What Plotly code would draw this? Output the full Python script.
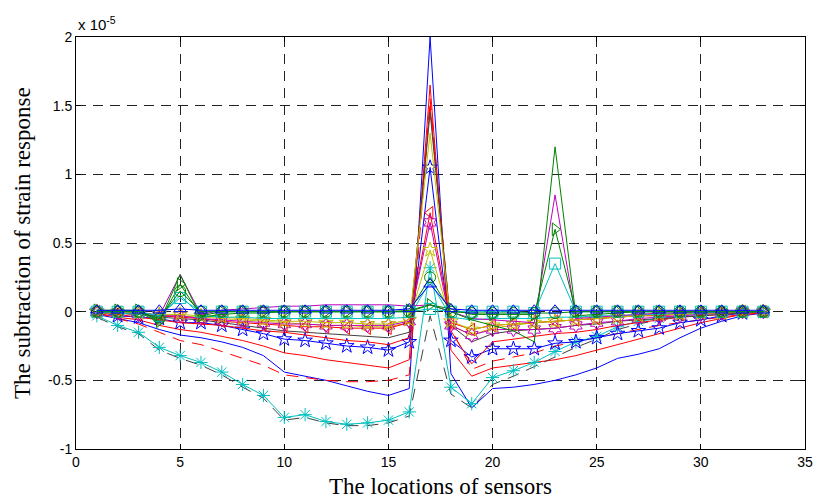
import plotly.graph_objects as go

x = list(range(1, 34))

# values in units of 1e-5
blue_line = [-0.02,-0.05,-0.08,-0.13,-0.17,-0.19,-0.22,-0.26,-0.32,-0.44,-0.47,-0.50,-0.54,-0.58,-0.61,-0.56,2.00,-0.45,-0.70,-0.56,-0.55,-0.53,-0.50,-0.46,-0.41,-0.34,-0.31,-0.27,-0.19,-0.12,-0.07,-0.03,-0.01]
red_line = [-0.01,-0.04,-0.06,-0.10,-0.13,-0.15,-0.18,-0.21,-0.25,-0.30,-0.32,-0.35,-0.37,-0.39,-0.41,-0.35,1.65,-0.28,-0.47,-0.41,-0.39,-0.37,-0.35,-0.32,-0.28,-0.24,-0.20,-0.16,-0.12,-0.08,-0.05,-0.02,-0.01]
red_dash = [-0.01,-0.05,-0.09,-0.15,-0.21,-0.24,-0.29,-0.34,-0.39,-0.46,-0.48,-0.50,-0.51,-0.51,-0.50,-0.46,1.55,-0.12,-0.42,-0.36,-0.33,-0.30,-0.25,-0.22,-0.19,-0.16,-0.13,-0.10,-0.08,-0.06,-0.04,-0.02,-0.01]
black_dash = [-0.04,-0.11,-0.16,-0.28,-0.34,-0.39,-0.46,-0.55,-0.63,-0.79,-0.77,-0.81,-0.83,-0.83,-0.81,-0.76,-0.03,-0.60,-0.70,-0.53,-0.47,-0.40,-0.33,-0.26,-0.20,-0.13,-0.09,-0.06,-0.04,-0.02,-0.01,0.00,0.00]
cyan_ast = [-0.03,-0.10,-0.15,-0.26,-0.32,-0.37,-0.44,-0.53,-0.61,-0.77,-0.75,-0.80,-0.82,-0.81,-0.79,-0.73,0.32,-0.55,-0.67,-0.48,-0.43,-0.37,-0.29,-0.22,-0.18,-0.11,-0.07,-0.05,-0.03,-0.02,-0.01,0.00,0.00]
blue_star = [0.00,-0.03,-0.04,-0.05,-0.08,-0.08,-0.10,-0.13,-0.16,-0.20,-0.21,-0.23,-0.25,-0.26,-0.28,-0.22,1.05,-0.21,-0.33,-0.27,-0.27,-0.27,-0.23,-0.22,-0.19,-0.16,-0.14,-0.12,-0.08,-0.06,-0.03,-0.01,0.00]
red_upper = [0.00,-0.02,-0.04,-0.06,-0.08,-0.09,-0.10,-0.12,-0.14,-0.15,-0.17,-0.19,-0.21,-0.22,-0.24,-0.19,1.50,-0.14,-0.38,-0.22,-0.20,-0.18,-0.16,-0.15,-0.13,-0.10,-0.08,-0.06,-0.04,-0.03,-0.02,-0.01,0.00]
black_line = [0.00,-0.01,-0.02,-0.04,-0.05,-0.06,-0.08,-0.10,-0.12,-0.14,-0.15,-0.16,-0.17,-0.18,-0.19,-0.15,1.45,-0.10,-0.22,-0.16,-0.14,-0.13,-0.12,-0.10,-0.09,-0.07,-0.06,-0.05,-0.04,-0.03,-0.02,-0.01,0.00]
yellow_line = [-0.01,-0.01,-0.02,-0.03,-0.03,-0.04,-0.05,-0.06,-0.07,-0.08,-0.09,-0.10,-0.10,-0.11,-0.11,-0.08,1.30,-0.10,-0.17,-0.12,-0.10,-0.08,-0.07,-0.06,-0.05,-0.04,-0.03,-0.02,-0.02,-0.01,-0.01,0.00,0.00]
red_tri = [0.00,-0.01,-0.02,-0.03,-0.04,-0.05,-0.07,-0.08,-0.09,-0.10,-0.11,-0.11,-0.12,-0.12,-0.12,-0.08,0.72,-0.08,-0.13,-0.10,-0.09,-0.08,-0.07,-0.06,-0.05,-0.04,-0.03,-0.03,-0.02,-0.01,-0.01,0.00,0.00]
magenta_hex = [0.00,-0.01,-0.02,-0.03,-0.03,-0.05,-0.06,-0.07,-0.08,-0.09,-0.09,-0.10,-0.10,-0.10,-0.10,-0.07,0.65,-0.10,-0.17,-0.13,-0.13,-0.13,-0.12,-0.10,-0.08,-0.07,-0.05,-0.04,-0.03,-0.02,-0.01,0.00,0.00]
yellow_plus = [0.00,0.00,-0.01,-0.02,-0.02,-0.03,-0.04,-0.05,-0.06,-0.07,-0.07,-0.08,-0.08,-0.09,-0.09,-0.06,0.45,-0.07,-0.13,-0.10,-0.09,-0.08,-0.07,-0.06,-0.05,-0.04,-0.03,-0.02,-0.02,-0.01,-0.01,0.00,0.00]
cyan_line = [0.00,-0.01,-0.02,-0.04,0.12,-0.03,-0.04,-0.04,-0.05,-0.05,-0.05,-0.05,-0.05,-0.05,-0.05,-0.04,0.22,-0.04,-0.06,-0.05,-0.05,-0.05,-0.04,-0.04,-0.03,-0.03,-0.02,-0.02,-0.01,-0.01,0.00,0.00,0.00]
magenta_line = [0.00,0.00,0.00,-0.03,0.27,-0.02,0.01,0.02,0.03,0.04,0.04,0.05,0.05,0.05,0.05,0.04,0.05,0.00,-0.05,-0.06,-0.07,-0.08,0.85,-0.05,-0.04,-0.03,-0.02,-0.01,-0.01,0.00,0.00,0.00,0.00]
green_line = [0.00,0.00,0.00,-0.08,0.27,-0.04,-0.02,-0.01,-0.01,0.00,0.00,0.00,0.00,0.00,0.00,0.00,0.05,0.00,-0.06,-0.10,-0.14,-0.22,1.20,-0.03,-0.02,-0.01,0.00,0.00,0.00,0.00,0.00,0.00,0.00]
green_tri = [0.01,0.01,0.01,-0.07,0.20,-0.03,0.00,0.00,0.00,0.00,0.00,0.00,0.00,0.00,0.00,0.01,0.05,0.02,-0.02,-0.02,-0.02,-0.02,0.60,0.00,0.00,0.00,0.00,0.00,0.00,0.00,0.00,0.00,0.00]
cyan_sq = [0.00,0.00,0.00,-0.03,0.10,0.00,0.00,0.00,0.00,0.00,0.00,0.00,0.00,0.00,0.00,0.00,0.02,0.00,0.00,0.00,0.00,-0.01,0.35,0.00,0.00,0.00,0.00,0.00,0.00,0.00,0.00,0.00,0.00]
green_circ = [0.00,0.00,0.00,-0.05,0.15,0.00,0.00,0.00,0.00,0.00,0.00,0.00,0.00,0.00,0.00,0.00,0.25,0.00,-0.01,-0.01,-0.01,-0.01,-0.01,0.00,0.00,0.00,0.00,0.00,0.00,0.00,0.00,0.00,0.00]
blue_tri = [0.01,0.01,0.01,0.01,0.02,0.01,0.01,0.01,0.01,0.01,0.01,0.01,0.01,0.01,0.01,0.02,0.20,0.02,0.01,0.01,0.01,0.01,0.01,0.01,0.01,0.01,0.01,0.01,0.01,0.01,0.01,0.01,0.01]

x_ticks = [0, 5, 10, 15, 20, 25, 30, 35]
y_ticks = [-1, -0.5, 0, 0.5, 1, 1.5, 2]
y_ticktext = ["-1", "-0.5", "0", "0.5", "1", "1.5", "2"]

B = "#0000FF"; G = "#008000"; R = "#FF0000"; C = "#00BFBF"; M = "#BF00BF"; Y = "#BFBF00"; K = "#404040"

series = [
    (blue_line, B, "solid", None),
    (red_line, R, "solid", None),
    (red_dash, R, "dash", None),
    (black_dash, K, "dash", None),
    (cyan_ast, C, "solid", "asterisk-open"),
    (blue_star, B, "solid", "star-open"),
    (red_upper, R, "solid", None),
    (black_line, K, "solid", None),
    (yellow_line, Y, "solid", None),
    (red_tri, R, "solid", "triangle-left-open"),
    (magenta_hex, M, "solid", "hexagram-open"),
    (yellow_plus, Y, "solid", "star-open"),
    (cyan_line, C, "solid", None),
    (magenta_line, M, "solid", None),
    (green_line, G, "solid", None),
    (green_tri, G, "solid", "triangle-right-open"),
    (cyan_sq, C, "solid", "square-open"),
    (green_circ, G, "solid", "circle-open"),
    (blue_tri, B, "solid", "triangle-up-open"),
]

fig = go.Figure()
for ys, col, dash, sym in series:
    ldash = "12px,8px" if dash == "dash" else dash
    if sym:
        fig.add_trace(go.Scatter(x=x, y=ys, mode="lines+markers",
                                 line=dict(color=col, width=1, dash=ldash),
                                 marker=dict(symbol=sym, size=11, color=col, line=dict(color=col, width=1))))
    else:
        fig.add_trace(go.Scatter(x=x, y=ys, mode="lines",
                                 line=dict(color=col, width=1, dash=ldash)))

axis_common = dict(showline=True, linecolor="black", linewidth=1, mirror="ticks",
                   ticks="inside", ticklen=5, tickcolor="black",
                   showgrid=True, gridcolor="#222222", gridwidth=1, griddash="10px,7px",
                   zeroline=False, ticklabeloverflow="allow",
                   tickfont=dict(family="Liberation Sans, Arial", size=14, color="black"))

fig.update_layout(
    width=820, height=499,
    margin=dict(l=76, r=7, t=37, b=50),
    paper_bgcolor="white", plot_bgcolor="white",
    showlegend=False,
    xaxis=dict(range=[0, 35], tickmode="array", tickvals=x_ticks, **axis_common),
    yaxis=dict(range=[-1, 2], tickmode="array", tickvals=y_ticks, ticktext=y_ticktext, **axis_common),
    annotations=[
        dict(text="The locations of sensors", xref="paper", yref="paper", x=0.5, y=-0.09,
             xanchor="center", yanchor="middle", showarrow=False,
             font=dict(family="Liberation Serif, Times New Roman", size=23, color="black")),
        dict(text="The subtraction of strain response", xref="paper", yref="paper", x=-0.074, y=0.5,
             xanchor="center", yanchor="middle", textangle=-90, showarrow=False,
             font=dict(family="Liberation Serif, Times New Roman", size=23, color="black")),
        dict(text="x 10<sup>-5</sup>", xref="paper", yref="paper", x=0.0, y=1.005,
             xanchor="left", yanchor="bottom", showarrow=False,
             font=dict(family="Liberation Sans, Arial", size=15, color="black")),
    ],
)

fig.write_html("out.html")
